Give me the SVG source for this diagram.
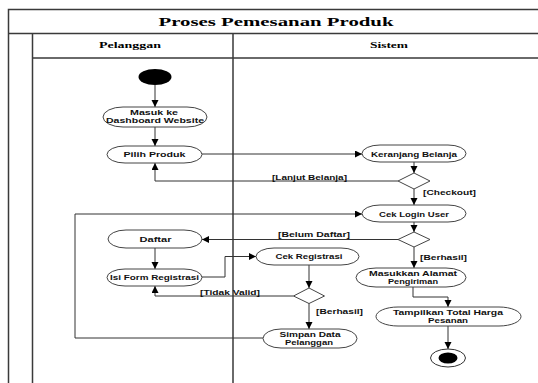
<svg xmlns="http://www.w3.org/2000/svg" width="538" height="383" viewBox="0 0 538 383">
<style>
.frame{fill:none;stroke:#3a3a3a;stroke-width:1.5}
.node{fill:#fff;stroke:#444;stroke-width:1}
.t{font-family:"Liberation Sans",Arial,sans-serif;font-weight:bold;font-size:7.5px;fill:#111;text-anchor:middle}
.t2{font-size:6.8px}
.lbl{font-family:"Liberation Sans",Arial,sans-serif;font-weight:bold;font-size:7.5px;fill:#111}
.hd{font-family:"Liberation Serif","Times New Roman",serif;font-weight:bold;fill:#000;text-anchor:middle}
.c{fill:none;stroke:#333;stroke-width:1}
</style>
<defs>
<marker id="ah" markerUnits="userSpaceOnUse" markerWidth="8" markerHeight="8" refX="7" refY="3.5" orient="auto">
<path d="M0,0 L7,3.5 L0,7 z" fill="#000"/>
</marker>
</defs>
<rect width="538" height="383" fill="#fff"/>
<g id="frame">
<path class="frame" d="M8.5,383 V9.5 H540 M8.5,33.5 H540 M32.5,33.5 V383 M32.5,58 H540 M233,33.5 V383"/>
<text class="hd" x="276" y="25.5" font-size="13" textLength="235" lengthAdjust="spacingAndGlyphs">Proses Pemesanan Produk</text>
<text class="hd" x="130" y="48" font-size="9" textLength="62" lengthAdjust="spacingAndGlyphs">Pelanggan</text>
<text class="hd" x="389" y="48" font-size="9" textLength="38" lengthAdjust="spacingAndGlyphs">Sistem</text>
</g>
<g id="connectors">
<path class="c" d="M155,85 V107" marker-end="url(#ah)"/>
<path class="c" d="M155,127 V146" marker-end="url(#ah)"/>
<path class="c" d="M202,154 H362" marker-end="url(#ah)"/>
<path class="c" d="M414,162 V173" marker-end="url(#ah)"/>
<path class="c" d="M398,181 H155 V163" marker-end="url(#ah)"/>
<path class="c" d="M414,189 V205" marker-end="url(#ah)"/>
<path class="c" d="M263,338 H75 V214 H362" marker-end="url(#ah)"/>
<path class="c" d="M414,222 V232" marker-end="url(#ah)"/>
<path class="c" d="M398,239.5 H202" marker-end="url(#ah)"/>
<path class="c" d="M414,247 V268" marker-end="url(#ah)"/>
<path class="c" d="M155,248 V269" marker-end="url(#ah)"/>
<path class="c" d="M202,277 H225 V256.5 H256" marker-end="url(#ah)"/>
<path class="c" d="M309,265 V288" marker-end="url(#ah)"/>
<path class="c" d="M293.5,296 H155 V286" marker-end="url(#ah)"/>
<path class="c" d="M309,303 V329" marker-end="url(#ah)"/>
<path class="c" d="M413,287 V297 H448 V307" marker-end="url(#ah)"/>
<path class="c" d="M448,326 V349" marker-end="url(#ah)"/>
<text class="lbl" x="272" y="179.5" textLength="75" lengthAdjust="spacingAndGlyphs">[Lanjut Belanja]</text>
<text class="lbl" x="423" y="194.5" textLength="53" lengthAdjust="spacingAndGlyphs">[Checkout]</text>
<text class="lbl" x="278" y="237" textLength="72" lengthAdjust="spacingAndGlyphs">[Belum Daftar]</text>
<text class="lbl" x="420" y="259.5" textLength="47" lengthAdjust="spacingAndGlyphs">[Berhasil]</text>
<text class="lbl" x="200" y="294.5" textLength="60" lengthAdjust="spacingAndGlyphs">[Tidak Valid]</text>
<text class="lbl" x="316" y="314" textLength="47" lengthAdjust="spacingAndGlyphs">[Berhasil]</text>
</g>
<g id="start"><ellipse cx="155" cy="77" rx="16.5" ry="8" fill="#000"/></g>
<g id="masuk">
<rect class="node" x="103" y="107" width="104" height="20" rx="20" ry="10"/>
<text class="t" x="154" y="114.5" textLength="48" lengthAdjust="spacingAndGlyphs">Masuk ke</text>
<text class="t" x="155" y="123" textLength="98" lengthAdjust="spacingAndGlyphs">Dashboard Website</text>
</g>
<g id="pilih">
<rect class="node" x="107" y="146" width="95" height="17" rx="18" ry="8.5"/>
<text class="t" x="154.5" y="157" textLength="62" lengthAdjust="spacingAndGlyphs">Pilih Produk</text>
</g>
<g id="keranjang">
<rect class="node" x="362" y="145" width="104" height="17" rx="18" ry="8.5"/>
<text class="t" x="414" y="156.5" textLength="86" lengthAdjust="spacingAndGlyphs">Keranjang Belanja</text>
</g>
<g id="d1"><path class="node" d="M414,173 L430,181 L414,189 L398,181 z"/></g>
<g id="ceklogin">
<rect class="node" x="362" y="205" width="104" height="17" rx="18" ry="8.5"/>
<text class="t" x="414" y="217" textLength="70" lengthAdjust="spacingAndGlyphs">Cek Login User</text>
</g>
<g id="d2"><path class="node" d="M414,232 L430,239.5 L414,247 L398,239.5 z"/></g>
<g id="daftar">
<rect class="node" x="108" y="230" width="94" height="18" rx="18" ry="9"/>
<text class="t" x="155.5" y="241.5" textLength="32" lengthAdjust="spacingAndGlyphs">Daftar</text>
</g>
<g id="isiform">
<rect class="node" x="107" y="269" width="95" height="17" rx="18" ry="8.5"/>
<text class="t" x="154.5" y="280" textLength="89" lengthAdjust="spacingAndGlyphs">Isi Form Registrasi</text>
</g>
<g id="cekreg">
<rect class="node" x="256" y="248" width="103" height="17" rx="18" ry="8.5"/>
<text class="t" x="309" y="259" textLength="67" lengthAdjust="spacingAndGlyphs">Cek Registrasi</text>
</g>
<g id="d3"><path class="node" d="M309,288 L324.5,296 L309,303.5 L293.5,296 z"/></g>
<g id="simpan">
<rect class="node" x="263" y="329" width="94" height="19" rx="18" ry="9.5"/>
<text class="t t2" x="310" y="337" textLength="61" lengthAdjust="spacingAndGlyphs">Simpan Data</text>
<text class="t t2" x="309" y="345" textLength="48" lengthAdjust="spacingAndGlyphs">Pelanggan</text>
</g>
<g id="masukkan">
<rect class="node" x="356" y="268" width="110" height="19" rx="20" ry="9.5"/>
<text class="t t2" x="413" y="275.5" textLength="88" lengthAdjust="spacingAndGlyphs">Masukkan Alamat</text>
<text class="t t2" x="413" y="283.5" textLength="50" lengthAdjust="spacingAndGlyphs">Pengiriman</text>
</g>
<g id="tampilkan">
<rect class="node" x="376" y="307" width="145" height="19" rx="22" ry="9.5"/>
<text class="t t2" x="448" y="315" textLength="110" lengthAdjust="spacingAndGlyphs">Tampilkan Total Harga</text>
<text class="t t2" x="448" y="323" textLength="40" lengthAdjust="spacingAndGlyphs">Pesanan</text>
</g>
<g id="end">
<ellipse cx="448" cy="358" rx="17.5" ry="9" fill="#fff" stroke="#333" stroke-width="1"/>
<ellipse cx="448" cy="358" rx="9.5" ry="5.5" fill="#000"/>
</g>
</svg>
